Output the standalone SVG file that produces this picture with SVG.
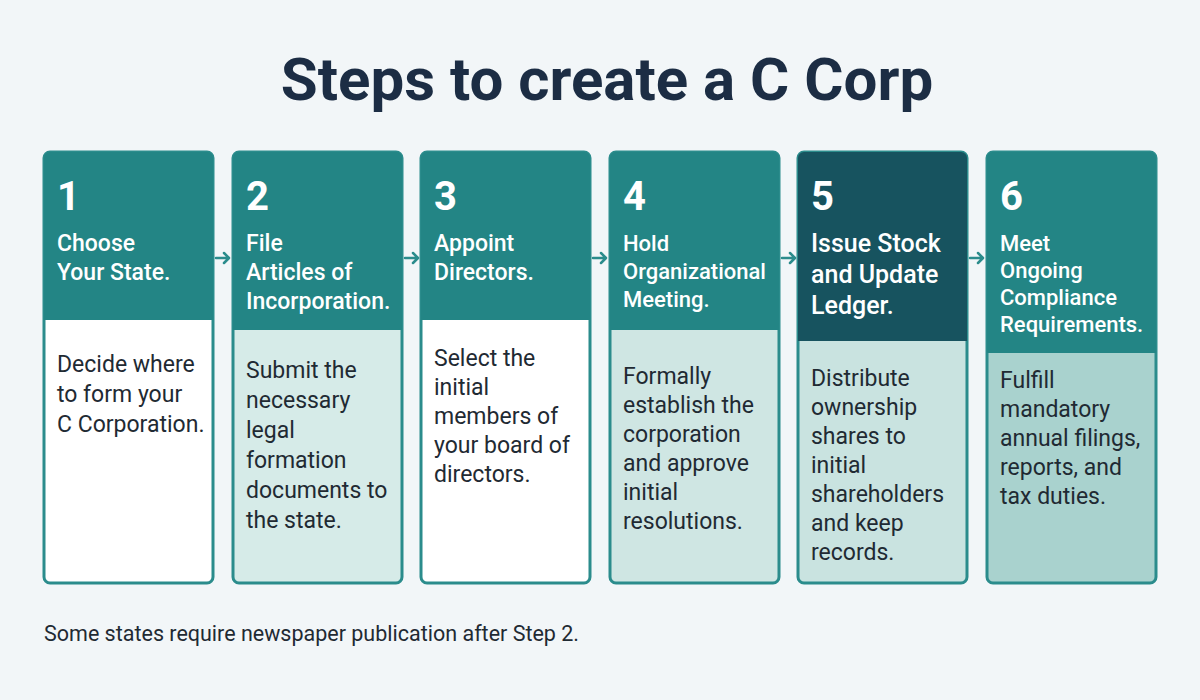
<svg xmlns="http://www.w3.org/2000/svg" width="1200" height="700" viewBox="0 0 1200 700">
<style>
.card{fill:#fff;stroke:#2b8c8c;stroke-width:3}
.hd{fill:#238585}
.num{font:bold 40px Roboto,"Liberation Sans",sans-serif;fill:#fff}
.ht{font:500 23px Roboto,"Liberation Sans",sans-serif;fill:#fff}
.bt{font:400 23px Roboto,"Liberation Sans",sans-serif;fill:#1f2a33}
.arr{fill:none;stroke:#2b8c8c;stroke-width:2.5;stroke-linecap:round;stroke-linejoin:round}
</style>
<rect width="1200" height="700" fill="#f2f6f8"/>
<text x="607" y="100" text-anchor="middle" style="font:bold 60px Roboto,'Liberation Sans',sans-serif;fill:#1c2d44">Steps to create a C Corp</text>
<g id="step1"><rect class="card" x="44" y="152" width="169" height="431" rx="6"/><path class="hd" d="M44 158a6 6 0 0 1 6-6h157a6 6 0 0 1 6 6v162h-169z"/>
<text class="num" x="57" y="210">1</text><text class="ht" x="57" y="251">Choose</text><text class="ht" x="57" y="280">Your State.</text>
<text class="bt" x="57" y="372">Decide where</text><text class="bt" x="57" y="402">to form your</text><text class="bt" x="57" y="432">C Corporation.</text></g>
<g id="step2"><rect class="card" x="233" y="152" width="169" height="431" rx="6" style="fill:#d6ebe8"/><path class="hd" d="M233 158a6 6 0 0 1 6-6h157a6 6 0 0 1 6 6v172h-169z"/>
<text class="num" x="246" y="210">2</text><text class="ht" x="246" y="251">File</text><text class="ht" x="246" y="280">Articles of</text><text class="ht" x="246" y="309">Incorporation.</text>
<text class="bt" x="246" y="378">Submit the</text><text class="bt" x="246" y="408">necessary</text><text class="bt" x="246" y="438">legal</text><text class="bt" x="246" y="468">formation</text><text class="bt" x="246" y="498">documents to</text><text class="bt" x="246" y="528">the state.</text></g>
<g id="step3"><rect class="card" x="421" y="152" width="169" height="431" rx="6"/><path class="hd" d="M421 158a6 6 0 0 1 6-6h157a6 6 0 0 1 6 6v162h-169z"/>
<text class="num" x="434" y="210">3</text><text class="ht" x="434" y="251">Appoint</text><text class="ht" x="434" y="280">Directors.</text>
<text class="bt" x="434" y="366">Select the</text><text class="bt" x="434" y="395">initial</text><text class="bt" x="434" y="424">members of</text><text class="bt" x="434" y="453">your board of</text><text class="bt" x="434" y="482">directors.</text></g>
<g id="step4"><rect class="card" x="610" y="152" width="169" height="431" rx="6" style="fill:#cfe6e3"/><path class="hd" d="M610 158a6 6 0 0 1 6-6h157a6 6 0 0 1 6 6v172h-169z"/>
<text class="num" x="623" y="210">4</text><text class="ht" x="623" y="251" style="font-size:22px">Hold</text><text class="ht" x="623" y="279" style="font-size:22px">Organizational</text><text class="ht" x="623" y="307" style="font-size:22px">Meeting.</text>
<text class="bt" x="623" y="384">Formally</text><text class="bt" x="623" y="413">establish the</text><text class="bt" x="623" y="442">corporation</text><text class="bt" x="623" y="471">and approve</text><text class="bt" x="623" y="500">initial</text><text class="bt" x="623" y="529">resolutions.</text></g>
<g id="step5"><rect class="card" x="798" y="152" width="169" height="431" rx="6" style="fill:#c9e3e0"/><path d="M798 158a6 6 0 0 1 6-6h157a6 6 0 0 1 6 6v183h-169z" fill="#17535f"/>
<text class="num" x="811" y="210">5</text><text class="ht" x="811" y="252" style="font-size:25px">Issue Stock</text><text class="ht" x="811" y="283" style="font-size:25px">and Update</text><text class="ht" x="811" y="314" style="font-size:25px">Ledger.</text>
<text class="bt" x="811" y="386">Distribute</text><text class="bt" x="811" y="415">ownership</text><text class="bt" x="811" y="444">shares to</text><text class="bt" x="811" y="473">initial</text><text class="bt" x="811" y="502">shareholders</text><text class="bt" x="811" y="531">and keep</text><text class="bt" x="811" y="560">records.</text></g>
<g id="step6"><rect class="card" x="987" y="152" width="169" height="431" rx="6" style="fill:#a9d2ce"/><path class="hd" d="M987 158a6 6 0 0 1 6-6h157a6 6 0 0 1 6 6v195h-169z"/>
<text class="num" x="1000" y="210">6</text><text class="ht" x="1000" y="251" style="font-size:22px">Meet</text><text class="ht" x="1000" y="278" style="font-size:22px">Ongoing</text><text class="ht" x="1000" y="305" style="font-size:22px">Compliance</text><text class="ht" x="1000" y="332" style="font-size:22px">Requirements.</text>
<text class="bt" x="1000" y="388">Fulfill</text><text class="bt" x="1000" y="417">mandatory</text><text class="bt" x="1000" y="446">annual filings,</text><text class="bt" x="1000" y="475">reports, and</text><text class="bt" x="1000" y="504">tax duties.</text></g>
<g id="connectors">
<path class="arr" d="M216 258h12M224 253l5 5-5 5"/>
<path class="arr" d="M405 258h12M413 253l5 5-5 5"/>
<path class="arr" d="M593 258h12M601 253l5 5-5 5"/>
<path class="arr" d="M782 258h12M790 253l5 5-5 5"/>
<path class="arr" d="M970 258h12M978 253l5 5-5 5"/>
</g>
<text x="44" y="641" style="font:400 21.5px Roboto,'Liberation Sans',sans-serif;fill:#1f2a33">Some states require newspaper publication after Step 2.</text>
</svg>
